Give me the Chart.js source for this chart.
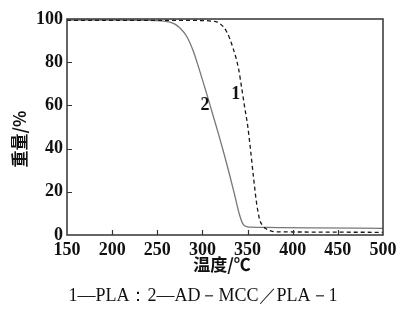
<!DOCTYPE html>
<html>
<head>
<meta charset="utf-8">
<script src="https://cdn.jsdelivr.net/npm/chart.js@4/dist/chart.umd.min.js"></script>
<style>
html,body{margin:0;padding:0;background:#fff;}
#wrap{width:403px;height:321px;position:relative;}
</style>
</head>
<body>
<div id="wrap"><canvas id="c" width="403" height="321"></canvas></div>
<script>
// Series 1: PLA (dashed)
const tempPLA = [150, 250, 300, 310, 319, 327, 334, 340, 343.5, 347, 350, 353, 356.5, 360, 363.5, 367, 370, 375, 380, 400, 450, 500];
const weightPLA = [99.4, 99.4, 99.3, 99.0, 98, 94, 86.4, 77, 68, 58.6, 51, 40.5, 27, 14.7, 7, 4.2, 3.0, 2.0, 1.5, 1.4, 1.3, 1.25];
// Series 2: AD-MCC/PLA-1 (solid)
const tempAD = [150, 200, 240, 255, 264, 270, 275, 282.5, 290, 297, 305, 312, 318, 324, 330, 336, 341, 345, 349, 355, 370, 420, 500];
const weightAD = [99.5, 99.5, 99.4, 99.1, 98.6, 97.5, 95.9, 92, 85, 76, 65, 55, 46.5, 37.5, 28, 18, 9.5, 5, 3.9, 3.6, 3.5, 3.3, 3.1];
// Axis ticks
const xTicks = [150, 200, 250, 300, 350, 400, 450, 500];
const yTicks = [0, 20, 40, 60, 80, 100];
// Text
const xTitle = "温度/℃";
const yTitle = "重量/%";
const caption = "1—PLA：2—AD－MCC／PLA－1";
const curveLabels = [{text: "1", x: 337, y: 65.3}, {text: "2", x: 302.8, y: 60.2}];

const numFont = {family: "'Liberation Serif', 'DejaVu Serif', serif", size: 18, weight: "bold"};
const cjkFontCss = "bold 17px 'Noto Sans CJK SC', sans-serif";

const decor = {
  id: 'decor',
  afterDraw(chart) {
    const ctx = chart.ctx, a = chart.chartArea;
    const xs = chart.scales.x, ys = chart.scales.y;
    ctx.save();
    ctx.strokeStyle = '#333';
    ctx.lineWidth = 1.5;
    ctx.strokeRect(a.left, a.top, a.right - a.left, a.bottom - a.top);
    ctx.lineWidth = 1.2;
    ctx.beginPath();
    xTicks.forEach(v => {
      if (v === xTicks[0] || v === xTicks[xTicks.length - 1]) return;
      const px = Math.round(xs.getPixelForValue(v)) + 0.5;
      ctx.moveTo(px, a.bottom); ctx.lineTo(px, a.bottom - 5);
    });
    yTicks.forEach(v => {
      if (v === yTicks[0] || v === yTicks[yTicks.length - 1]) return;
      const py = Math.round(ys.getPixelForValue(v)) + 0.5;
      ctx.moveTo(a.left, py); ctx.lineTo(a.left + 5, py);
    });
    ctx.stroke();
    ctx.fillStyle = '#111';
    ctx.font = "bold 18px 'Liberation Serif', serif";
    ctx.textAlign = 'center';
    ctx.textBaseline = 'middle';
    curveLabels.forEach(l => {
      ctx.fillText(l.text, xs.getPixelForValue(l.x), ys.getPixelForValue(l.y));
    });
    // axis titles
    ctx.font = cjkFontCss;
    ctx.fillText(xTitle, 222, 265);
    ctx.save();
    ctx.translate(20, 139);
    ctx.rotate(-Math.PI / 2);
    ctx.fillText(yTitle, 0, 0);
    ctx.restore();
    // caption
    ctx.font = "18px 'Liberation Serif', serif";
    ctx.fillText(caption, 203, 296);
    ctx.restore();
  }
};

new Chart(document.getElementById('c'), {
  type: 'line',
  data: {
    datasets: [
      {
        label: 'PLA',
        data: tempPLA.map((t, i) => ({x: t, y: weightPLA[i]})),
        borderColor: '#1a1a1a',
        borderWidth: 1.3,
        borderDash: [4, 3],
        pointRadius: 0,
        fill: false,
        cubicInterpolationMode: 'monotone'
      },
      {
        label: 'AD-MCC/PLA-1',
        data: tempAD.map((t, i) => ({x: t, y: weightAD[i]})),
        borderColor: '#777',
        borderWidth: 1.3,
        pointRadius: 0,
        fill: false,
        cubicInterpolationMode: 'monotone'
      }
    ]
  },
  options: {
    responsive: false,
    animation: false,
    devicePixelRatio: 1,
    layout: {padding: {left: 0, right: 20, top: 19, bottom: 0}},
    plugins: {legend: {display: false}, tooltip: {enabled: false}},
    scales: {
      x: {
        type: 'linear', min: 150, max: 500,
        afterBuildTicks: s => { s.ticks = xTicks.map(v => ({value: v})); },
        afterFit: s => { s.height = 86; },
        grid: {display: false, drawTicks: false},
        border: {display: false},
        ticks: {color: '#111', font: numFont, padding: 5, maxRotation: 0, autoSkip: false}
      },
      y: {
        type: 'linear', min: 0, max: 100,
        afterBuildTicks: s => { s.ticks = yTicks.map(v => ({value: v})); },
        afterFit: s => { s.width = 67; },
        grid: {display: false, drawTicks: false},
        border: {display: false},
        ticks: {color: '#111', font: numFont, padding: 4, autoSkip: false}
      }
    }
  },
  plugins: [decor]
});
</script>
</body>
</html>
